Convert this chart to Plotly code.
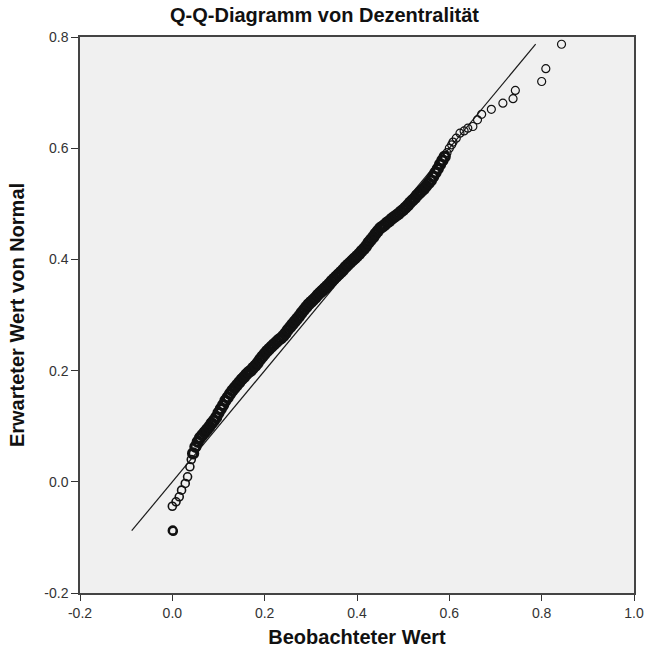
import plotly.graph_objects as go

# ---- Data ----
# Observed values (Beobachteter Wert) and expected normal values (Erwarteter Wert von Normal)
low_obs = [0.000, 0.001, 0.002, 0.000, 0.008, 0.015, 0.020, 0.028, 0.033, 0.038, 0.041]
low_exp = [-0.088, -0.087, -0.089, -0.044, -0.036, -0.027, -0.015, -0.003, 0.009, 0.027, 0.040]

mid_obs = [0.045, 0.050, 0.055, 0.060, 0.065, 0.070, 0.075, 0.080, 0.085, 0.090,
           0.095, 0.100, 0.105, 0.110, 0.115, 0.120, 0.125, 0.130, 0.135, 0.140,
           0.145, 0.150, 0.155, 0.160, 0.165, 0.170, 0.175, 0.180, 0.185, 0.190,
           0.195, 0.200, 0.205, 0.210, 0.215, 0.220, 0.225, 0.230, 0.235, 0.240,
           0.245, 0.250, 0.255, 0.260, 0.265, 0.270, 0.275, 0.280, 0.285, 0.290,
           0.295, 0.300, 0.305, 0.310, 0.315, 0.320, 0.325, 0.330, 0.335, 0.340,
           0.345, 0.350, 0.355, 0.360, 0.365, 0.370, 0.375, 0.380, 0.385, 0.390,
           0.395, 0.400, 0.405, 0.410, 0.415, 0.420, 0.425, 0.430, 0.435, 0.440,
           0.445, 0.450, 0.455, 0.460, 0.465, 0.470, 0.475, 0.480, 0.485, 0.490,
           0.495, 0.500, 0.505, 0.510, 0.515, 0.520, 0.525, 0.530, 0.535, 0.540,
           0.545, 0.550, 0.555, 0.560, 0.565, 0.570, 0.575, 0.580, 0.585, 0.590]
mid_exp = [0.051, 0.063, 0.072, 0.079, 0.084, 0.089, 0.094, 0.099, 0.105, 0.110,
           0.116, 0.124, 0.131, 0.138, 0.146, 0.152, 0.158, 0.164, 0.169, 0.174,
           0.179, 0.184, 0.188, 0.193, 0.197, 0.200, 0.205, 0.209, 0.214, 0.220,
           0.225, 0.230, 0.235, 0.239, 0.243, 0.247, 0.251, 0.255, 0.258, 0.262,
           0.267, 0.273, 0.278, 0.283, 0.288, 0.293, 0.298, 0.304, 0.309, 0.314,
           0.319, 0.323, 0.327, 0.331, 0.336, 0.340, 0.344, 0.348, 0.352, 0.356,
           0.361, 0.365, 0.369, 0.373, 0.377, 0.381, 0.386, 0.390, 0.394, 0.398,
           0.402, 0.406, 0.410, 0.415, 0.419, 0.424, 0.430, 0.435, 0.440, 0.446,
           0.451, 0.456, 0.459, 0.462, 0.466, 0.469, 0.473, 0.476, 0.479, 0.482,
           0.486, 0.489, 0.493, 0.497, 0.502, 0.506, 0.510, 0.515, 0.519, 0.523,
           0.527, 0.532, 0.537, 0.542, 0.549, 0.556, 0.563, 0.571, 0.578, 0.585]

high_obs = [0.595, 0.600, 0.605, 0.608, 0.615, 0.623, 0.632, 0.640, 0.651, 0.661,
            0.670, 0.691, 0.716, 0.738, 0.743, 0.800, 0.809, 0.843]
high_exp = [0.592, 0.600, 0.606, 0.611, 0.618, 0.627, 0.631, 0.636, 0.639, 0.651,
            0.661, 0.670, 0.681, 0.689, 0.704, 0.720, 0.743, 0.787]

# Reference line (y = x) end points
line_vals = [-0.088, 0.787]

tick_vals_x = [-0.2, 0.0, 0.2, 0.4, 0.6, 0.8, 1.0]
tick_text_x = ["-0.2", "0.0", "0.2", "0.4", "0.6", "0.8", "1.0"]
tick_vals_y = [-0.2, 0.0, 0.2, 0.4, 0.6, 0.8]
tick_text_y = ["-0.2", "0.0", "0.2", "0.4", "0.6", "0.8"]

FONT = "Liberation Sans, Arial, sans-serif"
INK = "#111111"

fig = go.Figure()
fig.add_trace(go.Scatter(
    x=line_vals, y=line_vals, mode="lines",
    line=dict(color="#1a1a1a", width=1.2), hoverinfo="skip", showlegend=False))
# sparse lower tail
fig.add_trace(go.Scatter(
    x=low_obs, y=low_exp, mode="markers",
    marker=dict(symbol="circle-open", size=8, color=INK, line=dict(width=1.6)),
    showlegend=False))
# dense middle section (overlapping circles form a solid band)
fig.add_trace(go.Scatter(
    x=mid_obs, y=mid_exp, mode="markers",
    marker=dict(symbol="circle-open", size=9, color=INK, line=dict(width=3.3)),
    showlegend=False))
# sparse upper tail
fig.add_trace(go.Scatter(
    x=high_obs, y=high_exp, mode="markers",
    marker=dict(symbol="circle-open", size=8, color=INK, line=dict(width=1.2)),
    showlegend=False))

W, H = 649, 659
fig.update_layout(
    width=W, height=H,
    margin=dict(l=80, r=15, t=37, b=66, autoexpand=False),
    paper_bgcolor="white", plot_bgcolor="#F0F0F0",
    font=dict(family=FONT, color="#222222", size=14),
    title=dict(text="<b>Q-Q-Diagramm von Dezentralität</b>", x=0.5, xanchor="center",
               y=1 - 15 / H, yanchor="middle", yref="container",
               font=dict(family=FONT, size=20, color=INK)),
    showlegend=False,
)
fig.update_xaxes(
    range=[-0.2, 1.0], tickvals=tick_vals_x, ticktext=tick_text_x,
    ticks="outside", ticklen=6, tickcolor="#333333", tickwidth=1,
    tickfont=dict(family=FONT, size=14, color="#333333"),
    showgrid=False, zeroline=False, automargin=False,
    showline=True, linecolor="#444444", linewidth=1.5, mirror=True,
    title=dict(text="<b>Beobachteter Wert</b>", font=dict(family=FONT, size=20, color=INK),
               standoff=10),
)
fig.update_yaxes(
    range=[-0.2, 0.8], tickvals=tick_vals_y, ticktext=tick_text_y,
    ticks="outside", ticklen=7, tickcolor="#333333", tickwidth=1,
    tickfont=dict(family=FONT, size=14, color="#333333"),
    showgrid=False, zeroline=False, automargin=False,
    showline=True, linecolor="#444444", linewidth=1.5, mirror=True,
    title=dict(text="<b>Erwarteter Wert von Normal</b>", font=dict(family=FONT, size=20, color=INK),
               standoff=14),
)

fig.write_html("out.html",
               config={"displayModeBar": False},
               post_script="document.body.style.margin='0px';document.body.style.overflow='hidden';")
